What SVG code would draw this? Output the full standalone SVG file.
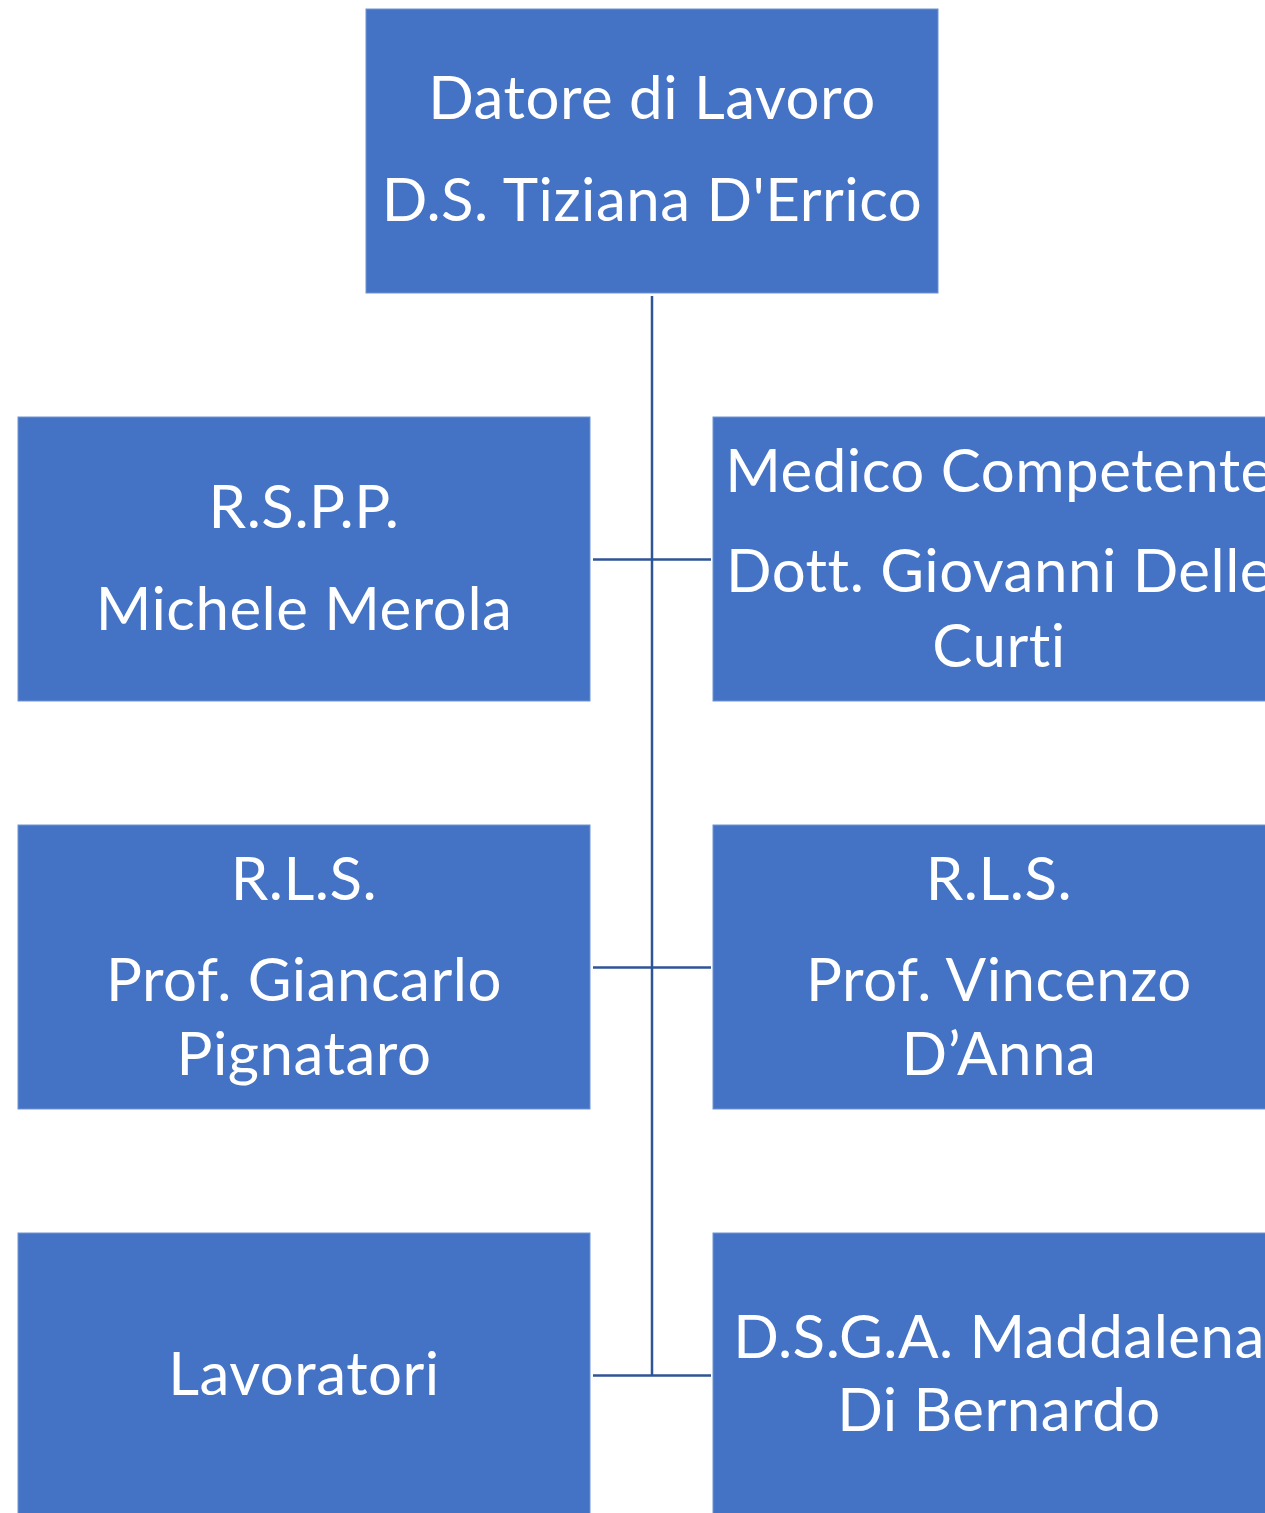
<svg xmlns="http://www.w3.org/2000/svg" width="1265" height="1513" viewBox="0 0 1265 1513">
<style>
.box{fill:#4472C4;stroke:#6F93D2;stroke-width:1}
.t{font-family:Lato,"Open Sans","Liberation Sans",sans-serif;font-size:60px;letter-spacing:0.5px;fill:#FFFFFF;text-anchor:middle;font-variant-ligatures:none;font-feature-settings:"liga" 0}
.c{stroke:#2F5597;stroke-width:2.5;fill:none}
</style>
<rect width="1265" height="1513" fill="#FFFFFF"/>
<g id="connectors">
<line class="c" x1="652" y1="296" x2="652" y2="1376"/>
<line class="c" x1="593" y1="559.5" x2="711" y2="559.5"/>
<line class="c" x1="593" y1="967.5" x2="711" y2="967.5"/>
<line class="c" x1="593" y1="1375.5" x2="711" y2="1375.5"/>
</g>
<g id="datore">
<rect class="box" x="366" y="9" width="572" height="284"/>
<text class="t" x="652" y="119">Datore di Lavoro</text>
<text class="t" x="652" y="221">D.S. Tiziana D'Errico</text>
</g>
<g id="rspp">
<rect class="box" x="18" y="417" width="572" height="284"/>
<text class="t" x="304" y="528">R.S.P.P.</text>
<text class="t" x="304" y="630">Michele Merola</text>
</g>
<g id="medico">
<rect class="box" x="713" y="417" width="572" height="284"/>
<text class="t" x="999" y="492">Medico Competente</text>
<text class="t" x="999" y="592">Dott. Giovanni Delle</text>
<text class="t" x="999" y="667">Curti</text>
</g>
<g id="rls1">
<rect class="box" x="18" y="825" width="572" height="284"/>
<text class="t" x="304" y="900">R.L.S.</text>
<text class="t" x="304" y="1001">Prof. Giancarlo</text>
<text class="t" x="304" y="1075">Pignataro</text>
</g>
<g id="rls2">
<rect class="box" x="713" y="825" width="572" height="284"/>
<text class="t" x="999" y="900">R.L.S.</text>
<text class="t" x="999" y="1001">Prof. Vincenzo</text>
<text class="t" x="999" y="1075">D’Anna</text>
</g>
<g id="lavoratori">
<rect class="box" x="18" y="1233" width="572" height="290"/>
<text class="t" x="304" y="1395">Lavoratori</text>
</g>
<g id="dsga">
<rect class="box" x="713" y="1233" width="572" height="290"/>
<text class="t" x="999" y="1358">D.S.G.A. Maddalena</text>
<text class="t" x="999" y="1431">Di Bernardo</text>
</g>
</svg>
